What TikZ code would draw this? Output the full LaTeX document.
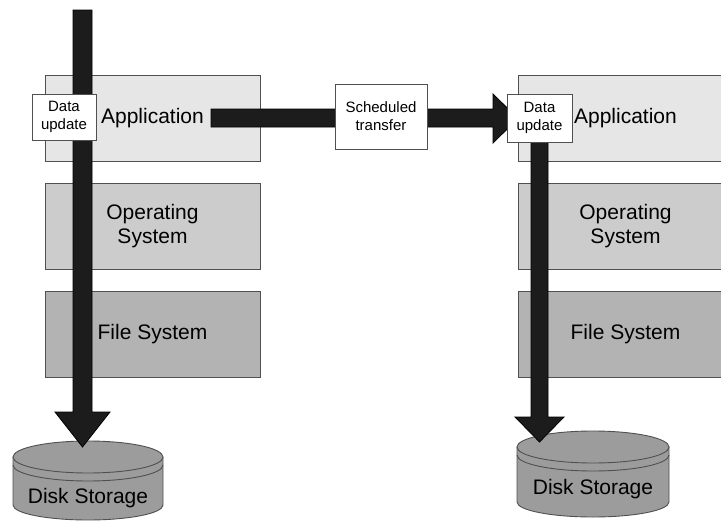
\documentclass[tikz,border=0pt]{standalone}
\usepackage{fontspec}
\setmainfont{Liberation Sans}
\definecolor{appfill}{HTML}{E6E6E6}
\definecolor{osfill}{HTML}{CCCCCC}
\definecolor{fsfill}{HTML}{B3B3B3}
\definecolor{diskfill}{HTML}{9C9C9C}
\definecolor{edge}{HTML}{505050}
\definecolor{flow}{HTML}{1C1C1C}
\begin{document}
\begin{tikzpicture}[x=1pt,y=-1pt,
  layer/.style={draw=edge, line width=0.9pt, minimum width=215pt, minimum height=86pt,
    inner sep=0pt, align=center, font=\fontsize{21}{24}\selectfont},
  tag/.style={draw=edge, fill=white, line width=0.9pt, inner sep=0pt, align=center,
    font=\fontsize{15}{18}\selectfont},
  blockarrow/.style={draw=black, fill=flow, line width=0.8pt, line join=miter},
  disk/.style={draw=edge, fill=diskfill, line width=0.9pt},
  disklabel/.style={font=\fontsize{21}{24}\selectfont}]
\useasboundingbox (0,0) rectangle (721,522);
\clip (0,0) rectangle (721,522);

% left software stack
\node[layer, fill=appfill] (appL) at (152.5,118) {Application};
\node[layer, fill=osfill]  (osL)  at (152.5,226) {Operating\\System};
\node[layer, fill=fsfill]  (fsL)  at (152.5,334) {File System};

% right software stack
\node[layer, fill=appfill] (appR) at (625.5,118) {Application};
\node[layer, fill=osfill]  (osR)  at (625.5,226) {Operating\\System};
\node[layer, fill=fsfill]  (fsR)  at (625.5,334) {File System};

% left disk
\path[disk] (13,457) -- (13,505) arc[start angle=180, end angle=0, x radius=75, y radius=15]
  -- (163,457) -- cycle;
\draw[disk] (88,457) ellipse [x radius=75, y radius=16];
\draw[edge, line width=0.9pt] (13,465) arc[start angle=180, end angle=0, x radius=75, y radius=16];
\node[disklabel] (diskL) at (88,498) {Disk Storage};

% right disk
\path[disk] (517,447) -- (517,502) arc[start angle=180, end angle=0, x radius=76, y radius=15]
  -- (669,447) -- cycle;
\draw[disk] (593,447) ellipse [x radius=76, y radius=16];
\draw[edge, line width=0.9pt] (517,455) arc[start angle=180, end angle=0, x radius=76, y radius=16];
\node[disklabel] (diskR) at (593,489) {Disk Storage};

% write path on the primary side
\draw[blockarrow] (73,10) -- (92,10) -- (92,412) -- (110,412) -- (82.5,447)
  -- (55,412) -- (73,412) -- cycle;

% transfer to the secondary side
\draw[blockarrow] (211,109) -- (493,109) -- (493,94) -- (518,118.5) -- (493,143)
  -- (493,127) -- (211,127) -- cycle;

% write path on the secondary side
\draw[blockarrow] (531,130) -- (548,130) -- (548,417) -- (564,417) -- (539.5,442)
  -- (515,417) -- (531,417) -- cycle;

% labels on top of the flows
\node[tag, minimum width=64pt, minimum height=46pt] (updL) at (64,117) {Data\\update};
\node[tag, minimum width=92pt, minimum height=65pt] (sched) at (381,116.5) {Scheduled\\transfer};
\node[tag, minimum width=65pt, minimum height=48pt] (updR) at (539.5,118) {Data\\update};
\end{tikzpicture}
\end{document}
